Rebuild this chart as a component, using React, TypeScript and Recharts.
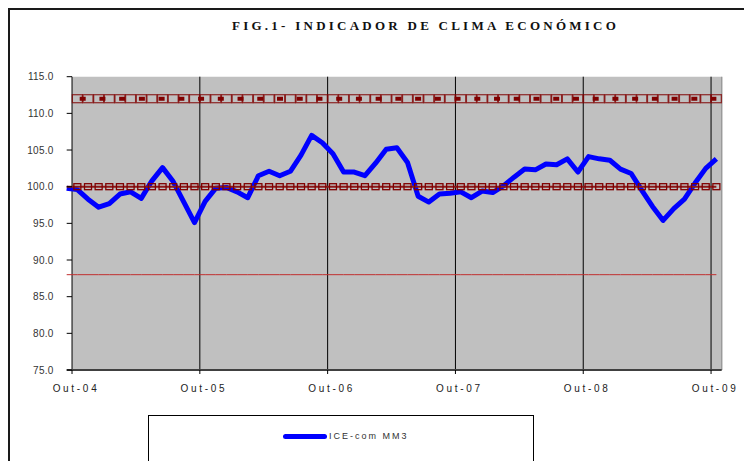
import { ComposedChart, Line, XAxis, YAxis, ReferenceArea, ReferenceLine, Legend } from 'recharts'

// ICE-com MM3, monthly (Set-04 .. Out-09)
const ICE = [
  99.8, 99.6, 98.3, 97.2, 97.7, 99.0, 99.3, 98.4, 100.8, 102.6, 100.7, 97.9,
  95.1, 98.0, 99.8, 99.9, 99.3, 98.5, 101.5, 102.1, 101.5, 102.1, 104.3, 107.0,
  106.0, 104.5, 102.0, 102.0, 101.5, 103.2, 105.1, 105.3, 103.3, 98.7, 97.9, 99.0,
  99.1, 99.3, 98.5, 99.4, 99.2, 100.1, 101.3, 102.4, 102.3, 103.1, 103.0, 103.8,
  102.0, 104.1, 103.8, 103.6, 102.4, 101.8, 99.5, 97.3, 95.4, 97.0, 98.3, 100.5,
  102.5, 103.8,
]
const LIMIT_UP = 112
const MEAN = 100
const LIMIT_DOWN = 88

const X_TICKS = [0.5, 12.5, 24.5, 36.5, 48.5, 60.5]
const X_LABELS = ['Out-04', 'Out-05', 'Out-06', 'Out-07', 'Out-08', 'Out-09']
const Y_TICKS = [75, 80, 85, 90, 95, 100, 105, 110, 115]

const TITLE = 'FIG.1- INDICADOR DE CLIMA ECONÓMICO'

const data = ICE.map((v, i) => ({ i, ice: v, up: LIMIT_UP, mean: MEAN, down: LIMIT_DOWN }))

const DARK_RED = '#800000'
const FONT = '"Liberation Sans", Arial, sans-serif'

const squareDot = (w: number, h: number, sw: number, opacity: number) => (props: any) => {
  const { cx, cy, index } = props
  if (index === 0 || cx == null || cy == null) return <g key={`n-${index}`} />
  return (
    <rect
      key={`sq-${index}`}
      x={cx - w / 2}
      y={cy - h / 2}
      width={w}
      height={h}
      fill="none"
      stroke={DARK_RED}
      strokeOpacity={opacity}
      strokeWidth={sw}
    />
  )
}

function YTick({ x, y, payload }: any) {
  return (
    <g>
      <line x1={x + 13} x2={x + 18.3} y1={y} y2={y} stroke="#000" />
      <text x={x} y={y} dy={3.6} textAnchor="end" fontSize={10} fill="#333" fontFamily={FONT} letterSpacing={0.3}>
        {Number(payload.value).toFixed(1)}
      </text>
    </g>
  )
}

function XTick({ x, y, payload }: any) {
  const idx = X_TICKS.indexOf(payload.value)
  return (
    <text x={x} y={y} dx={4} dy={14.5} textAnchor="middle" fontSize={10} fill="#222" fontFamily={FONT} letterSpacing={2.7}>
      {X_LABELS[idx]}
    </text>
  )
}

function LegendBox({ payload }: any) {
  const items = (payload ?? []).filter((e: any) => e.dataKey === 'ice')
  return (
    <div style={{ width: 386, height: 60, border: '1px solid #000', background: '#fff', boxSizing: 'border-box', position: 'relative' }}>
      {items.map((e: any) => (
        <div key={e.value} style={{ position: 'absolute', left: 134, top: 15, display: 'flex', alignItems: 'center' }}>
          <span style={{ display: 'inline-block', width: 44, height: 5, borderRadius: 2.5, background: e.color }} />
          <span style={{ marginLeft: 2, fontFamily: FONT, fontSize: 9, letterSpacing: 2, color: '#333', lineHeight: '10px' }}>
            {e.value}
          </span>
        </div>
      ))}
    </div>
  )
}

export default function App() {
  return (
    <div style={{ position: 'absolute', left: 0, top: 0, width: 744, height: 461, overflow: 'hidden', background: '#fff' }}>
      <div
        style={{
          position: 'absolute', left: 8, top: 8, width: 760, height: 470,
          borderTop: '2px solid #1a1a1a', borderLeft: '2px solid #1a1a1a',
        }}
      />
      <div
        style={{
          position: 'absolute', left: 232, top: 18, whiteSpace: 'nowrap',
          fontFamily: '"Liberation Serif", "Times New Roman", serif', fontWeight: 'bold',
          fontSize: 13, lineHeight: '16px', letterSpacing: 3.25, color: '#111',
        }}
      >
        {TITLE}
      </div>
      <div style={{ position: 'absolute', left: 0, top: 0 }}>
        <ComposedChart width={744} height={461} data={data} margin={{ top: 76.7, right: 22.3, bottom: 61, left: 6.7 }}>
          <XAxis
            dataKey="i"
            type="number"
            domain={[0, 61.5]}
            ticks={X_TICKS}
            interval={0}
            height={30}
            axisLine={{ stroke: '#404040', strokeWidth: 2 }}
            tickLine={{ stroke: '#000' }}
            tickSize={4}
            tickMargin={3}
            tick={<XTick />}
          />
          <YAxis
            type="number"
            domain={[75, 115]}
            ticks={Y_TICKS}
            interval={0}
            width={60}
            axisLine={false}
            tickLine={false}
            tickSize={6}
            tickMargin={7}
            tick={<YTick />}
          />
          <ReferenceArea x1={0.5} x2={61.5} y1={75} y2={115} fill="#c0c0c0" fillOpacity={1} stroke="none" />
          {X_TICKS.map((t) => (
            <ReferenceLine key={t} x={t} stroke="#000" strokeWidth={1} />
          ))}
          <ReferenceLine x={61.5} stroke="#9a9a9a" strokeWidth={1.5} />

          <Line
            dataKey="down"
            stroke="#c03030"
            strokeWidth={1}
            dot={false}
            activeDot={false}
            legendType="none"
            isAnimationActive={false}
          />
          <Line
            dataKey="ice"
            name="ICE-com MM3"
            stroke="#0000ff"
            strokeWidth={5}
            strokeLinejoin="round"
            dot={false}
            activeDot={false}
            isAnimationActive={false}
          />
          <Line
            dataKey="mean"
            stroke="#8b1a1a"
            strokeWidth={2}
            dot={squareDot(7, 6, 1.3, 1)}
            activeDot={false}
            legendType="none"
            isAnimationActive={false}
          />
          <Line
            dataKey="up"
            stroke={DARK_RED}
            strokeWidth={4}
            strokeDasharray="6 13.73"
            strokeDashoffset={6.73}
            dot={squareDot(10, 8, 1.3, 0.75)}
            activeDot={false}
            legendType="none"
            isAnimationActive={false}
          />

          <Legend
            layout="horizontal"
            verticalAlign="middle"
            align="center"
            content={<LegendBox />}
            wrapperStyle={{ position: 'absolute', left: 148, top: 415, width: 386, height: 60 }}
          />
        </ComposedChart>
      </div>
    </div>
  )
}
